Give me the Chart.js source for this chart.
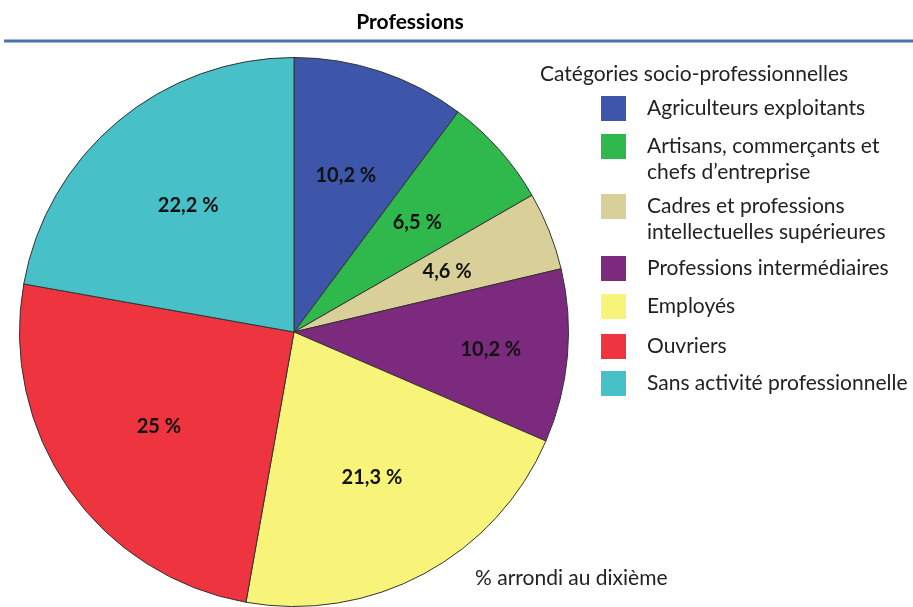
<!DOCTYPE html>
<html>
<head>
<meta charset="utf-8">
<script src="https://cdn.jsdelivr.net/npm/chart.js@4"></script>
<style>
  html, body { margin: 0; padding: 0; background: #fff; }
  #wrap { width: 913px; height: 607px; }
</style>
</head>
<body>
<div id="wrap"><canvas id="myChart" width="913" height="607"></canvas></div>
<script>
const categories = [
  "Agriculteurs exploitants",
  "Artisans, commerçants et chefs d’entreprise",
  "Cadres et professions intellectuelles supérieures",
  "Professions intermédiaires",
  "Employés",
  "Ouvriers",
  "Sans activité professionnelle"
];
// lignes de la légende (retour à la ligne comme dans l'original)
const legendLines = [
  ["Agriculteurs exploitants"],
  ["Artisans, commerçants et", "chefs d’entreprise"],
  ["Cadres et professions", "intellectuelles supérieures"],
  ["Professions intermédiaires"],
  ["Employés"],
  ["Ouvriers"],
  ["Sans activité professionnelle"]
];
const values = [10.2, 6.5, 4.6, 10.2, 21.3, 25, 22.2];
const valueLabels = ["10,2 %", "6,5 %", "4,6 %", "10,2 %", "21,3 %", "25 %", "22,2 %"];
const colors = ["#3d56a9", "#2fb84c", "#d8d098", "#7b2a7d", "#f8f47a", "#ee343f", "#47c1c7"];

const FONT = "Lato, 'Open Sans', sans-serif";

// étiquettes dans les parts
const sliceLabels = {
  id: "sliceLabels",
  afterDatasetsDraw(chart) {
    const ctx = chart.ctx;
    const meta = chart.getDatasetMeta(0);
    ctx.save();
    ctx.font = "bold 20px " + FONT;
    ctx.fillStyle = "#111";
    ctx.textAlign = "center";
    ctx.textBaseline = "middle";
    meta.data.forEach((arc, i) => {
      const p = arc.getProps(["x", "y", "startAngle", "endAngle", "outerRadius"], true);
      const mid = (p.startAngle + p.endAngle) / 2;
      const f = i === 3 ? 0.72 : 0.6;
      ctx.fillText(valueLabels[i], p.x + Math.cos(mid) * p.outerRadius * f, p.y + Math.sin(mid) * p.outerRadius * f);
    });
    ctx.restore();
  }
};

// titre, trait bleu, légende, note
const decorations = {
  id: "decorations",
  afterDraw(chart) {
    const ctx = chart.ctx;
    ctx.save();
    ctx.fillStyle = "#000";
    ctx.textBaseline = "middle";

    ctx.font = "bold 21px " + FONT;
    ctx.textAlign = "center";
    ctx.fillText("Professions", 410, 22);

    ctx.strokeStyle = "#4a72b2";
    ctx.lineWidth = 3;
    ctx.beginPath();
    ctx.moveTo(4, 41);
    ctx.lineTo(913, 41);
    ctx.stroke();

    ctx.textAlign = "left";
    ctx.font = "21px " + FONT;
    ctx.fillStyle = "#222";
    ctx.fillText("Catégories socio-professionnelles", 540, 74);

    const rowY = [108, 146, 206, 268, 306, 346, 383];
    legendLines.forEach((lines, i) => {
      ctx.fillStyle = colors[i];
      ctx.fillRect(601, rowY[i] - 12, 25, 25);
      ctx.fillStyle = "#222";
      lines.forEach((t, k) => ctx.fillText(t, 647, rowY[i] + k * 26));
    });

    ctx.fillText("% arrondi au dixième", 475, 578);
    ctx.restore();
  }
};

const ctx = document.getElementById("myChart").getContext("2d");
const myChart = new Chart(ctx, {
  type: "pie",
  data: {
    labels: categories,
    datasets: [{
      data: values,
      backgroundColor: colors,
      borderColor: "#333",
      borderWidth: 1
    }]
  },
  options: {
    responsive: false,
    animation: false,
    layout: { padding: { left: 19, right: 344, top: 57, bottom: 0 } },
    plugins: {
      legend: { display: false },
      title: { display: false },
      tooltip: { enabled: false }
    }
  },
  plugins: [sliceLabels, decorations]
});
</script>
</body>
</html>
